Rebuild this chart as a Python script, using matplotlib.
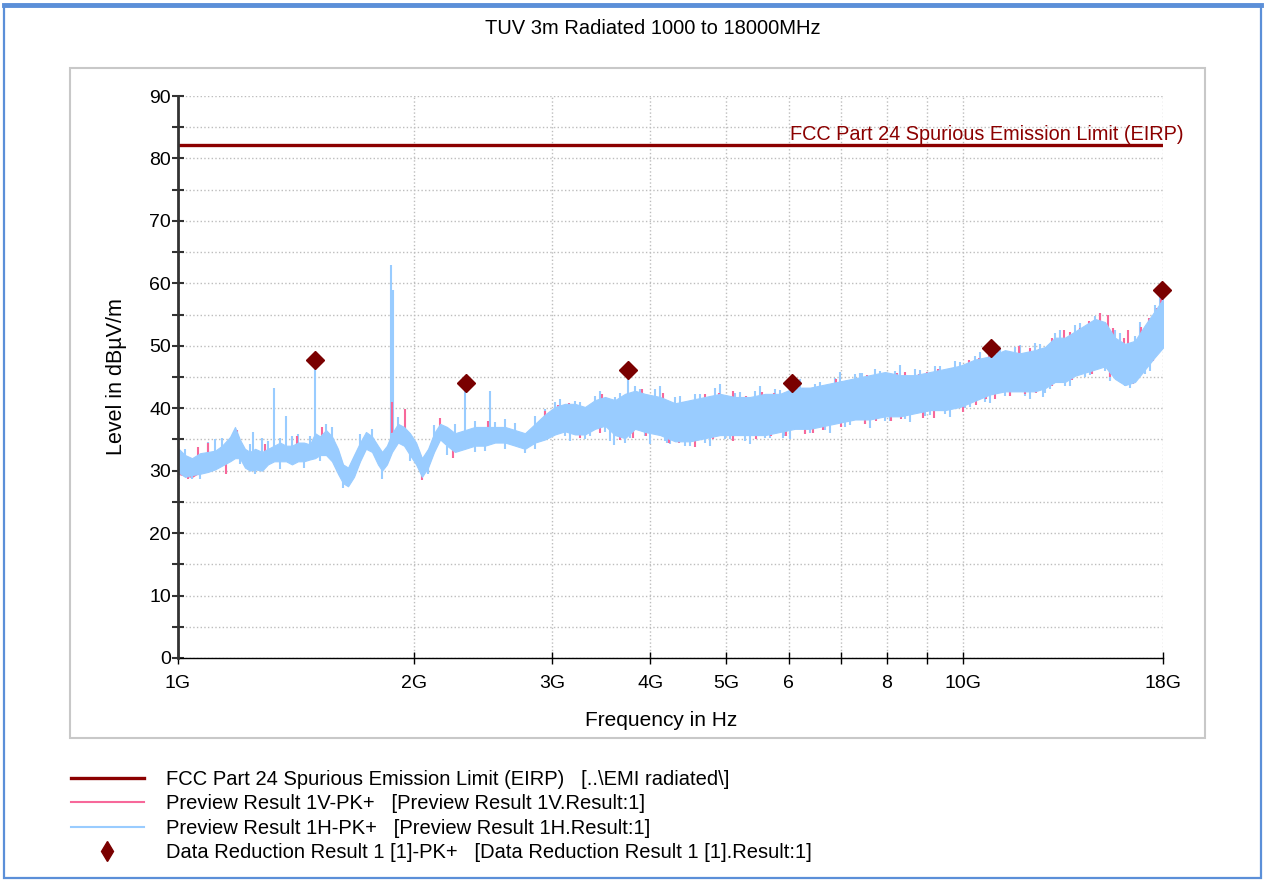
import matplotlib
matplotlib.use('Agg')
import matplotlib.pyplot as plt
import matplotlib.transforms as mtransforms
from matplotlib.lines import Line2D
from matplotlib.patches import Rectangle
from matplotlib.ticker import NullLocator, FixedLocator

plt.rcParams['font.family'] = ['Liberation Sans', 'DejaVu Sans']

W, H = 1266, 880

# frequency anchors in MHz, envelopes (dBuV/m)
freq_mhz = [1000, 1021, 1042, 1067, 1092, 1115, 1138, 1165, 1182, 1199,
            1217, 1235, 1254, 1280, 1302, 1326, 1349, 1373, 1397, 1422,
            1447, 1473, 1495, 1517, 1544, 1571, 1599, 1623, 1647, 1676,
            1706, 1736, 1767, 1798, 1820, 1846, 1874, 1907, 1941, 1975,
            2011, 2046, 2083, 2120, 2158, 2202, 2254, 2322, 2390, 2462,
            2535, 2611, 2689, 2768, 2851, 2936, 3023, 3113, 3206, 3301,
            3400, 3501, 3605, 3712, 3823, 3937, 4115, 4300, 4494, 4695,
            4907, 5126, 5357, 5599, 5849, 6113, 6389, 6676, 6977, 7291,
            7618, 7962, 8320, 8694, 9086, 9494, 9921, 10367, 10834, 11320,
            11830, 12363, 12731, 13110, 13500, 13902, 14316, 14742, 15181, 15633,
            16098, 16578, 17071, 17579, 18000]

# horizontal polarisation (blue)
h_low = [29.8, 29.0, 29.3, 29.5, 29.8, 30.2, 30.8, 31.5, 32.0, 32.0,
         30.5, 30.0, 30.2, 30.0, 31.0, 31.5, 31.5, 31.5, 31.0, 31.5,
         31.5, 31.8, 32.0, 32.5, 32.5, 31.5, 29.5, 28.0, 27.5, 29.0,
         31.5, 33.5, 33.0, 31.0, 30.0, 31.0, 33.0, 34.5, 34.0, 32.5,
         31.0, 29.0, 30.5, 33.0, 35.0, 34.0, 33.0, 33.5, 34.0, 34.0,
         34.5, 34.5, 34.0, 33.5, 34.5, 35.0, 35.8, 36.3, 35.8, 35.8,
         36.7, 37.2, 35.7, 35.2, 36.7, 36.2, 35.7, 34.7, 34.7, 35.2,
         35.7, 35.7, 35.7, 35.7, 36.2, 36.7, 36.7, 37.2, 37.7, 38.2,
         38.2, 38.7, 38.7, 39.2, 39.7, 39.7, 40.2, 41.2, 42.2, 42.7,
         42.7, 42.7, 43.2, 44.2, 44.2, 45.2, 45.7, 46.2, 46.7, 44.7,
         43.7, 44.2, 46.2, 48.2, 49.7]
h_high = [33.6, 32.5, 32.0, 32.8, 33.0, 33.2, 34.0, 35.4, 37.0, 35.0,
          33.5, 33.0, 33.5, 33.0, 33.5, 34.0, 34.5, 34.0, 34.0, 34.5,
          34.5, 34.2, 36.0, 35.5, 36.5, 35.5, 33.5, 31.0, 30.5, 32.5,
          34.5, 36.2, 35.5, 34.0, 33.0, 34.0, 36.0, 37.5, 37.0, 36.0,
          34.5, 32.0, 33.5, 36.0, 37.5, 37.0, 36.0, 36.5, 37.0, 37.0,
          37.0, 37.0, 36.5, 36.0, 37.5, 39.0, 40.2, 40.7, 40.7, 40.2,
          41.3, 41.8, 41.3, 42.3, 42.8, 42.3, 41.8, 40.8, 41.3, 41.8,
          42.3, 41.8, 41.8, 42.3, 42.3, 43.3, 43.3, 43.8, 44.3, 44.8,
          45.3, 45.8, 45.3, 45.3, 45.8, 46.3, 46.8, 47.8, 48.3, 49.3,
          48.8, 49.3, 49.8, 51.3, 51.3, 52.3, 53.3, 54.3, 53.8, 51.3,
          50.3, 50.8, 53.3, 55.6, 57.5]

# vertical polarisation (pink), mostly hidden under the blue trace
v_low = [29.5, 29.2, 29.0, 29.8, 30.0, 30.5, 31.2, 31.8, 32.3, 32.4,
         30.8, 30.3, 30.5, 30.4, 31.3, 31.8, 31.8, 31.8, 31.4, 31.8,
         31.8, 32.2, 32.3, 32.8, 32.9, 31.8, 29.8, 28.4, 27.9, 29.4,
         31.8, 33.8, 33.4, 31.4, 30.4, 31.3, 33.4, 34.8, 34.4, 32.8,
         31.3, 29.4, 30.8, 33.4, 35.3, 34.4, 33.4, 33.8, 34.3, 34.4,
         34.8, 34.8, 34.3, 33.9, 34.8, 35.8, 36.9, 37.3, 36.9, 36.8,
         37.9, 38.3, 36.9, 36.4, 37.9, 37.4, 36.9, 35.9, 35.9, 36.4,
         36.9, 36.8, 36.9, 36.8, 37.4, 37.8, 37.9, 38.4, 38.8, 39.4,
         39.4, 39.8, 39.9, 40.4, 40.8, 40.9, 41.4, 42.3, 43.4, 43.8,
         43.9, 43.8, 44.4, 45.3, 45.4, 46.3, 46.9, 47.3, 47.9, 45.8,
         44.9, 45.3, 47.4, 49.3, 50.8]
v_high = [33.2, 32.2, 31.7, 32.4, 32.7, 32.8, 33.7, 35.0, 36.6, 34.7,
          33.2, 32.6, 33.2, 32.6, 33.2, 33.6, 34.2, 33.6, 33.7, 34.1,
          34.2, 33.8, 35.6, 35.2, 36.1, 35.2, 33.1, 30.7, 30.1, 32.2,
          34.2, 35.8, 35.2, 33.6, 32.7, 33.6, 35.7, 37.1, 36.7, 35.6,
          34.2, 31.6, 33.2, 35.6, 37.2, 36.6, 35.7, 36.1, 36.7, 36.6,
          36.7, 36.6, 36.2, 35.6, 37.2, 38.1, 39.2, 39.6, 39.7, 39.1,
          40.2, 40.6, 40.2, 41.1, 41.7, 41.1, 40.7, 39.6, 40.2, 40.6,
          41.2, 40.6, 40.7, 41.1, 41.2, 42.1, 42.2, 42.6, 43.2, 43.6,
          44.2, 44.6, 44.2, 44.1, 44.7, 45.1, 45.7, 46.6, 47.2, 48.1,
          47.7, 48.1, 48.7, 50.1, 50.2, 51.1, 52.2, 53.1, 52.7, 50.1,
          49.2, 49.6, 52.2, 54.6, 57.2]

# narrow peaks and dips of the blue trace: frequency, from, to
h_spike_freq = [1245, 1326, 1373, 1495, 1870, 1880, 2322, 2500, 3590, 3745,
                4200, 5900, 7450, 11100, 12660, 13050,
                1115, 1280, 1422, 1544, 2254, 2611, 2851, 1067, 2202, 2462, 2768,
                3023, 3206, 3400, 3605, 3823, 4054, 4300, 4560, 4835, 5126,
                5437, 5766, 6113, 6483, 6875, 7291, 7731, 8199, 8694, 9220,
                9777, 10367, 10994, 11658, 12363, 13110, 13902, 14742, 15633, 16578,
                17579,
                3113, 3301, 3501, 3712, 3937, 4175, 4428, 4695, 4979, 5280,
                5599, 5937, 6296, 6676, 7079, 7508, 7962, 8443, 8953, 9494,
                10068, 10676, 11320, 12005, 12731, 13500, 14316, 15181, 16098, 17071,
                3068, 3253, 3450, 3658, 3879, 4115, 4363, 4627, 4907, 5203,
                5518, 5849, 6203, 6579, 6977, 7398, 7845, 8320, 8823, 9355,
                9921, 10520, 11156, 11830, 12545, 13303, 14108, 14961, 15864, 16825,
                17842,
                3159, 3350, 3553, 3767, 3995, 4237, 4494, 4764, 5052, 5357,
                5682, 6025, 6389, 6775, 7184, 7618, 8079, 8567, 9086, 9635,
                10216, 10834, 11488, 12183, 12918, 13700, 14527, 15405, 16336, 17323]
h_spike_lo = [33.0, 33.0, 33.0, 34.0, 35.0, 36.0, 35.5, 36.0, 34.1, 40.0,
              34.4, 35.2, 43.0, 47.0, 41.8, 48.5,
              33.0, 33.0, 34.0, 36.0, 36.0, 37.0, 37.0, 28.7, 32.5, 33.2, 32.8,
              39.0, 39.5, 40.0, 40.0, 41.5, 41.0, 39.5, 40.5, 41.0, 40.5,
              41.0, 41.0, 42.0, 42.0, 43.0, 43.5, 44.5, 44.5, 44.0, 45.0,
              45.5, 46.5, 47.5, 48.0, 48.0, 50.0, 51.0, 53.0, 50.0, 49.5,
              54.5,
              35.5, 35.0, 36.2, 34.5, 35.5, 34.8, 34.0, 34.5, 35.0, 34.8,
              35.2, 35.5, 36.0, 36.5, 37.0, 37.5, 38.0, 38.3, 38.8, 39.0,
              40.0, 41.0, 42.0, 42.0, 42.5, 43.5, 45.0, 46.0, 43.5, 45.5,
              39.5, 39.5, 40.5, 41.0, 41.5, 41.0, 40.0, 40.5, 41.5, 41.0,
              41.0, 41.5, 42.5, 42.5, 43.5, 44.0, 44.5, 44.5, 44.5, 45.0,
              46.0, 47.0, 48.0, 48.0, 48.5, 50.5, 52.0, 53.0, 50.0, 51.0,
              56.0,
              34.8, 35.5, 34.8, 35.2, 34.3, 34.2, 33.9, 34.0, 35.0, 34.3,
              35.2, 35.0, 36.0, 36.0, 37.3, 36.9, 38.0, 37.8, 38.9, 38.6,
              40.2, 40.8, 42.0, 41.5, 43.0, 43.5, 45.3, 44.4, 43.3, 46.0]
h_spike_hi = [36.2, 43.2, 38.7, 47.0, 63.0, 59.0, 43.5, 42.7, 38.5, 45.3,
              37.0, 37.5, 45.7, 49.2, 44.0, 51.0,
              35.0, 35.2, 35.8, 37.5, 37.5, 38.2, 38.8, 30.0, 34.0, 34.5, 34.0,
              41.0, 41.2, 42.0, 41.8, 43.5, 43.0, 41.8, 42.2, 43.2, 42.5,
              42.8, 43.0, 44.2, 43.8, 44.8, 45.5, 46.3, 46.0, 46.3, 46.8,
              47.5, 48.4, 49.3, 49.8, 50.5, 52.0, 53.3, 54.8, 52.5, 51.5,
              56.5,
              37.5, 37.0, 38.5, 36.5, 37.5, 36.5, 36.0, 36.5, 37.0, 37.0,
              37.0, 37.5, 38.0, 38.5, 39.0, 39.5, 40.0, 40.0, 40.5, 41.0,
              41.5, 43.0, 44.0, 44.0, 44.5, 45.5, 47.0, 48.0, 45.0, 47.5,
              41.5, 41.0, 42.8, 42.5, 43.0, 43.5, 42.0, 42.3, 43.8, 42.6,
              43.5, 42.9, 44.6, 44.2, 45.8, 45.6, 46.0, 47.0, 46.2, 46.8,
              47.4, 49.0, 49.6, 50.2, 50.3, 52.5, 53.6, 55.3, 52.0, 53.8,
              57.8,
              36.5, 37.0, 37.0, 37.0, 36.5, 36.0, 35.5, 36.0, 36.5, 36.5,
              36.5, 37.0, 37.5, 38.0, 38.5, 39.0, 39.5, 39.5, 40.5, 40.5,
              41.5, 42.8, 43.5, 43.5, 44.5, 45.5, 46.5, 46.5, 44.8, 48.0]

# small ripples of the blue trace below 3 GHz
h_ripple_freq = [1021, 1092, 1138, 1235, 1302, 1349, 1397, 1473, 1571, 1706,
                 1767, 1907, 2120, 2390, 2535, 2689, 2936,
                 1042, 1199, 1254, 1349, 1447, 1517, 1623, 1820, 1975, 2083,
                 2390, 2611, 2851]
h_ripple_lo = [32.0, 32.5, 33.5, 32.5, 33.0, 34.0, 33.5, 33.7, 35.0, 34.0,
               35.0, 37.0, 35.5, 36.5, 36.5, 36.0, 38.5,
               28.6, 31.0, 29.5, 30.3, 30.5, 31.5, 27.2, 28.6, 31.5, 29.5,
               33.0, 33.5, 33.5]
h_ripple_hi = [33.5, 34.6, 35.2, 34.3, 34.8, 35.3, 35.5, 35.5, 37.0, 35.8,
               36.6, 38.6, 37.3, 38.0, 37.8, 37.6, 39.8,
               29.8, 32.5, 30.7, 32.0, 32.0, 33.0, 28.5, 30.5, 33.0, 31.0,
               34.5, 35.0, 35.0]

# peaks and dips of the pink trace
v_spike_freq = [1060, 1092, 1190, 1290, 1420, 1525, 1876, 1947, 2158, 2480,
                2936, 3150, 3470, 3745, 4000, 4400, 4890, 5300, 5750, 6250,
                6540, 7220, 7800, 8240, 9000, 9700, 10500, 11200, 11800, 12500,
                13450, 14100, 14980, 15300, 16230, 16850, 17700,
                3050, 3900, 4150, 4700, 5100, 5550, 6050, 6900, 7550, 8450,
                8800, 9300, 10200, 10800, 12200, 13000, 13700, 14500, 15550, 16050,
                17300, 17900,
                1030, 1150, 1640, 2046, 2240, 3660, 3800, 4220, 4560, 5090,
                5700, 6300, 6630, 7500, 8100, 8900, 9620, 10000, 10400, 11000,
                12000, 13000, 15900, 16500, 18000,
                3250, 3450, 3950, 4350, 4800, 5450, 5950, 6450, 7000, 7750,
                8350, 9200, 10700, 11500, 12400, 13800, 14600, 15400, 16300, 16900,
                17500]
v_spike_lo = [31.5, 32.0, 33.0, 32.0, 33.0, 34.0, 36.0, 36.0, 36.0, 35.5,
              37.0, 38.0, 39.0, 40.0, 40.0, 38.5, 40.0, 40.0, 40.0, 41.0,
              41.0, 42.0, 43.0, 43.0, 43.0, 44.0, 45.0, 46.5, 47.0, 47.0,
              49.0, 50.0, 52.0, 51.5, 48.0, 50.0, 53.0,
              39.0, 41.0, 40.0, 40.5, 40.5, 41.0, 42.0, 43.0, 44.0, 44.0,
              44.0, 45.0, 46.0, 47.0, 48.0, 50.0, 51.0, 52.5, 50.0, 49.0,
              53.0, 56.0,
              28.6, 29.5, 27.6, 28.5, 32.0, 34.9, 35.3, 34.5, 33.8, 34.7,
              35.5, 35.8, 36.5, 37.5, 38.0, 38.5, 39.8, 39.4, 40.5, 41.5,
              42.3, 43.5, 44.0, 43.8, 50.5,
              35.2, 36.0, 35.5, 34.5, 35.0, 35.0, 35.5, 36.0, 37.0, 38.0,
              38.2, 38.5, 41.5, 42.0, 42.5, 44.5, 45.5, 45.0, 44.0, 45.5,
              47.5]
v_spike_hi = [33.8, 34.5, 36.5, 34.2, 35.5, 37.0, 41.0, 39.8, 38.4, 38.0,
              39.5, 40.8, 42.3, 42.5, 42.0, 41.0, 42.5, 42.0, 42.5, 43.3,
              43.0, 44.0, 45.0, 45.6, 45.8, 46.5, 48.0, 48.8, 50.0, 49.5,
              52.5, 52.8, 55.2, 55.0, 52.5, 53.0, 56.0,
              40.5, 43.0, 42.5, 42.3, 42.8, 42.6, 43.5, 44.6, 45.3, 45.8,
              45.5, 46.3, 47.8, 48.5, 49.6, 51.2, 52.2, 54.0, 52.8, 51.2,
              54.5, 57.5,
              30.5, 31.5, 29.0, 30.0, 34.0, 37.0, 38.0, 37.0, 36.0, 37.0,
              37.5, 38.0, 38.5, 39.5, 40.0, 40.5, 41.0, 41.5, 42.5, 43.5,
              44.0, 45.0, 45.5, 45.5, 51.5,
              36.8, 38.0, 37.2, 35.8, 36.5, 36.8, 37.5, 37.8, 38.7, 39.5,
              39.8, 40.5, 43.0, 43.7, 44.0, 46.0, 47.0, 46.5, 45.0, 47.0,
              49.0]

limit_freq = [1000, 18000]
limit_level = [82.2, 82.2]

reduction_freq = [1495, 2326, 3742, 6054, 10866, 17930]
reduction_level = [47.8, 44.1, 46.1, 44.1, 49.7, 58.9]

xtick_mhz = [1000, 2000, 3000, 4000, 5000, 6000, 7000, 8000, 9000, 10000, 18000]
xtick_labels = ['1G', '2G', '3G', '4G', '5G', '6', '', '8', '', '10G', '18G']

legend_labels = ['FCC Part 24 Spurious Emission Limit (EIRP)   [..\\EMI radiated\\]',
                 'Preview Result 1V-PK+   [Preview Result 1V.Result:1]',
                 'Preview Result 1H-PK+   [Preview Result 1H.Result:1]',
                 'Data Reduction Result 1 [1]-PK+   [Data Reduction Result 1 [1].Result:1]']

RED = '#8b0000'
PINK = '#f7689a'
BLUE = '#99ccff'


def hz(values):
    return [v * 1e6 for v in values]


fig = plt.figure(figsize=(W / 100, H / 100), dpi=100)

# outer blue frame and grey panel
fig.patches.append(Rectangle((4 / W, 2 / H), 1257 / W, 873 / H, transform=fig.transFigure,
                             fill=False, ec='#5b8fd8', lw=1.6, zorder=0))
fig.add_artist(Line2D([4 / W, 1261 / W], [1 - 5 / H, 1 - 5 / H], transform=fig.transFigure,
                      color='#5b8fd8', lw=3.5))
fig.patches.append(Rectangle((70 / W, 1 - 738 / H), 1135 / W, 670 / H, transform=fig.transFigure,
                             fill=False, ec='#c8c8c8', lw=1.5, zorder=0))

ax = fig.add_axes([178 / W, 1 - 658 / H, 985 / W, 562 / H])
ax.set_xscale('log')

# pink spikes only show where they leave the blue band
ax.fill_between(hz(freq_mhz), v_low, v_high, color=PINK, lw=0.8, zorder=2)
ax.vlines(hz(h_spike_freq), h_spike_lo, h_spike_hi, color=BLUE, lw=1.5, zorder=2.3)
ax.vlines(hz(h_ripple_freq), h_ripple_lo, h_ripple_hi, color=BLUE, lw=1.5, zorder=2.3)
ax.vlines(hz(v_spike_freq), v_spike_lo, v_spike_hi, color=PINK, lw=1.5, zorder=2.5)
ax.fill_between(hz(freq_mhz), h_low, h_high, color=BLUE, lw=0.8, zorder=3)

ax.plot(hz(limit_freq), limit_level, color=RED, lw=2.4, zorder=4)
ax.plot(hz(reduction_freq), reduction_level, ls='none', marker='D', ms=9,
        color='#7a0000', zorder=5, clip_on=False)

ax.text(1.0213, 82.95, 'FCC Part 24 Spurious Emission Limit (EIRP)', color=RED,
        fontsize=14.3, ha='right', va='baseline',
        transform=mtransforms.blended_transform_factory(ax.transAxes, ax.transData))

ax.set_xlim(1e9, 18e9)
ax.set_ylim(0, 90)
ax.xaxis.set_major_locator(FixedLocator(hz(xtick_mhz)))
ax.set_xticklabels(xtick_labels)
ax.xaxis.set_minor_locator(NullLocator())
ax.set_yticks(range(0, 91, 10))
ax.set_yticks(range(5, 90, 10), minor=True)

ax.grid(True, which='both', axis='y', ls=':', color='#bdbdbd', lw=1)
ax.grid(True, which='major', axis='x', ls=':', color='#bdbdbd', lw=1)

for s in ['top', 'right']:
    ax.spines[s].set_visible(False)
ax.spines['left'].set_linewidth(2)
ax.spines['left'].set_color('#333333')
ax.spines['bottom'].set_linewidth(1)
ax.spines['bottom'].set_color('black')
ax.spines['left'].set_zorder(6)

ax.tick_params(axis='y', which='both', direction='inout', length=8, width=1.5,
               color='#333333', labelsize=14, pad=1)
ax.tick_params(axis='x', which='both', direction='inout', length=9, width=1,
               labelsize=14, pad=8)

ax.set_ylabel('Level in dBµV/m', fontsize=15.5)
ax.yaxis.set_label_coords(-0.052, 0.5)
ax.set_xlabel('Frequency in Hz', fontsize=15)
ax.xaxis.set_label_coords(0.4903, -0.095)

fig.text(653 / W, 1 - 28 / H, 'TUV 3m Radiated 1000 to 18000MHz', ha='center', va='center',
         fontsize=14.5)

handles = [Line2D([], [], color=RED, lw=2.4),
           Line2D([], [], color=PINK, lw=1.5),
           Line2D([], [], color=BLUE, lw=1.5),
           Line2D([], [], ls='none', marker='d', ms=10, color='#7a0000')]
fig.legend(handles, legend_labels, loc='upper left', bbox_to_anchor=(71 / W, 1 - 770 / H),
           frameon=False, fontsize=14.5, handlelength=3.6, handletextpad=1.1,
           labelspacing=0.27, borderaxespad=0, borderpad=0)

fig.savefig('out.png', dpi=100)
